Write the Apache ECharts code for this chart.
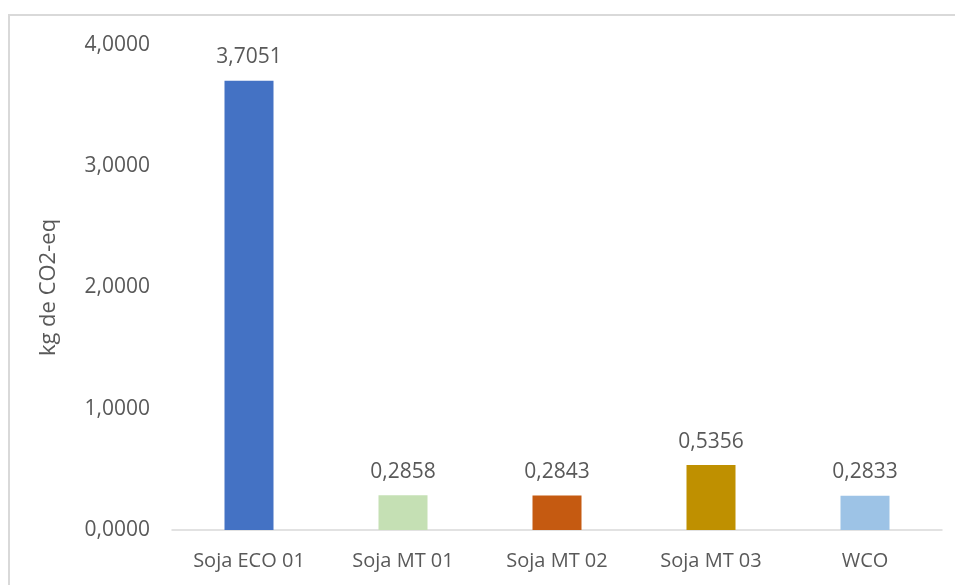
<!DOCTYPE html>
<html>
<head>
<meta charset="utf-8">
<script src="https://cdn.jsdelivr.net/npm/echarts@6/dist/echarts.min.js"></script>
<style>
  html, body { margin: 0; padding: 0; background: #ffffff; }
  #chart { width: 955px; height: 585px; }
</style>
</head>
<body>
<div id="chart"></div>
<script>
// Emission per sample, kg de CO2-eq
const categories = ['Soja ECO 01', 'Soja MT 01', 'Soja MT 02', 'Soja MT 03', 'WCO'];
const values = [3.7051, 0.2858, 0.2843, 0.5356, 0.2833];
const barColors = ['#4472C4', '#C5E0B4', '#C55A11', '#BF9000', '#9DC3E6'];
const yTicks = { min: 0, max: 4, interval: 1 };

const fmt = v => v.toFixed(4).replace('.', ',');
const FONT = '"Open Sans", "Noto Sans", sans-serif';
const TEXT = '#595959';

const chart = echarts.init(document.getElementById('chart'), null, { renderer: 'canvas' });
chart.setOption({
  backgroundColor: '#ffffff',
  animation: false,
  graphic: [{
    type: 'rect',
    shape: { x: 9, y: 15, width: 1000, height: 1000 },
    style: { fill: 'none', stroke: '#d9d9d9', lineWidth: 2 },
    silent: true
  }],
  grid: { left: 172, right: 13, top: 45, bottom: 55, containLabel: false },
  xAxis: {
    type: 'category',
    data: categories,
    axisLine: { show: true, lineStyle: { color: '#d9d9d9', width: 1.5 } },
    axisTick: { show: false },
    axisLabel: { color: TEXT, fontFamily: FONT, fontSize: 20, margin: 21 }
  },
  yAxis: {
    type: 'value',
    min: yTicks.min,
    max: yTicks.max,
    interval: yTicks.interval,
    name: 'kg de CO2-eq',
    nameLocation: 'middle',
    nameGap: 112,
    nameRotate: 90,
    nameTextStyle: { color: TEXT, fontFamily: FONT, fontSize: 22 },
    axisLine: { show: false },
    axisTick: { show: false },
    splitLine: { show: false },
    axisLabel: { color: TEXT, fontFamily: FONT, fontSize: 21, margin: 22, formatter: fmt }
  },
  series: [{
    type: 'bar',
    data: values.map((v, i) => ({ value: v, itemStyle: { color: barColors[i] } })),
    barWidth: 49,
    label: {
      show: true,
      position: 'top',
      distance: 13,
      color: TEXT,
      fontFamily: FONT,
      fontSize: 21,
      formatter: p => fmt(p.value)
    }
  }]
});
</script>
</body>
</html>
